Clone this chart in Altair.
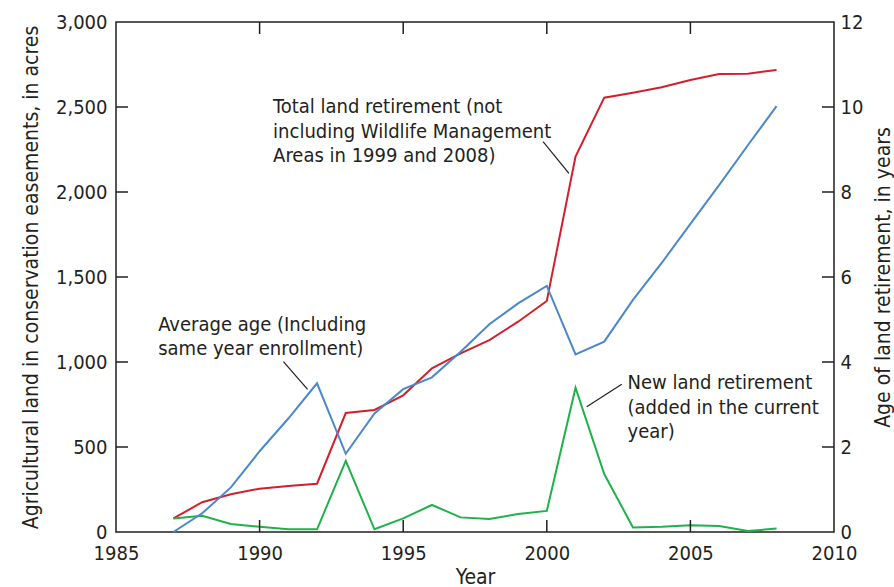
import altair as alt
import pandas as pd

# Annual series, 1987-2008
years = list(range(1987, 2009))
total_acres = [80, 175, 222, 255, 270, 284, 700, 718, 804, 963, 1051,
               1129, 1237, 1359, 2208, 2555, 2584, 2616, 2659, 2694, 2696, 2718]
new_acres = [80, 96, 47, 31, 16, 16, 418, 16, 80, 159, 86,
             76, 106, 124, 849, 341, 27, 31, 39, 35, 6, 20]
avg_age = [0, 0.44, 1.05, 1.9, 2.67, 3.5, 1.84, 2.79, 3.36, 3.64, 4.24,
           4.89, 5.38, 5.79, 4.18, 4.48, 5.46, 6.33, 7.25, 8.16, 9.1, 10.02]

# Axis tick values
acre_ticks = [0, 500, 1000, 1500, 2000, 2500, 3000]
age_ticks = [0, 2, 4, 6, 8, 10, 12]
year_ticks = [1985, 1990, 1995, 2000, 2005, 2010]
inner_acre_ticks = acre_ticks[1:-1]
inner_age_ticks = age_ticks[1:-1]
inner_year_ticks = year_ticks[1:-1]

# Callout labels (anchored in year / acre coordinates)
label_lines = [
    "Total land retirement (not",
    "including Wildlife Management",
    "Areas in 1999 and 2008)",
    "Average age (Including",
    "same year enrollment)",
    "New land retirement",
    "(added in the current",
    "year)",
]
label_x = [1990.47, 1990.47, 1990.47, 1986.47, 1986.47, 2002.81, 2002.81, 2002.81]
label_y = [2500, 2353, 2212, 1218, 1076, 875, 731, 590]

leader_x = [1999.87, 1990.83, 2002.61]
leader_y = [2296, 1002, 869]
leader_x2 = [2000.77, 1991.67, 2001.39]
leader_y2 = [2110, 839, 737]

FONT = "Liberation Sans Narrow, DejaVu Sans Condensed, Arial Narrow, sans-serif"
INK = "#231f20"
RED = "#d21f2c"
BLUE = "#4a88c9"
GREEN = "#1fb24b"
W, H = 718, 510
TICK = 12

df = pd.DataFrame({"year": years, "total": total_acres, "new": new_acres, "age": avg_age})
labels = pd.DataFrame({"x": label_x, "y": label_y, "text": label_lines})
leaders = pd.DataFrame({"x": leader_x, "y": leader_y, "x2": leader_x2, "y2": leader_y2})

x_scale = alt.Scale(domain=[1985, 2010], nice=False, zero=False)
acre_scale = alt.Scale(domain=[0, 3000], nice=False)
age_scale = alt.Scale(domain=[0, 12], nice=False)

# The same axis definition is given to every layer sharing a scale so the
# layered axes merge cleanly.
x_axis = alt.Axis(values=year_ticks, format="d", ticks=False, domain=False, grid=False,
                  labelPadding=11, labelFlush=False, title="Year",
                  titleX=W / 2, titleY=45, titleBaseline="middle", titleAlign="center")
acre_axis = alt.Axis(values=acre_ticks, format=",d", ticks=False, domain=False, grid=False,
                     labelPadding=9, labelFlush=False,
                     title="Agricultural land in conservation easements, in acres",
                     titleAngle=270, titleX=-85, titleY=H / 2,
                     titleAlign="center", titleBaseline="middle")
age_axis = alt.Axis(orient="right", values=age_ticks, format="d", ticks=False, domain=False,
                    grid=False, labelPadding=6, labelFlush=False,
                    title="Age of land retirement, in years",
                    titleAngle=270, titleX=49, titleY=H / 2,
                    titleAlign="center", titleBaseline="middle")


def xq(field):
    return alt.X(field, type="quantitative", scale=x_scale, axis=x_axis)


def acre_y(field):
    return alt.Y(field, type="quantitative", scale=acre_scale, axis=acre_axis)


def age_y(field):
    return alt.Y(field, type="quantitative", scale=age_scale, axis=age_axis)


base = alt.Chart(df)

total_line = base.mark_line(color=RED, strokeWidth=2).encode(x=xq("year"), y=acre_y("total"))
new_line = base.mark_line(color=GREEN, strokeWidth=2).encode(x=xq("year"), y=acre_y("new"))

# Inward-pointing tick marks on all four sides
left_ticks = alt.Chart(pd.DataFrame({"v": inner_acre_ticks})).mark_rule(
    color=INK, strokeWidth=1.5
).encode(y=acre_y("v"), x=alt.value(0), x2=alt.value(TICK))

bottom_ticks = alt.Chart(pd.DataFrame({"v": inner_year_ticks})).mark_rule(
    color=INK, strokeWidth=1.5
).encode(x=xq("v"), y=alt.value(H), y2=alt.value(H - TICK))

top_ticks = alt.Chart(pd.DataFrame({"v": inner_year_ticks})).mark_rule(
    color=INK, strokeWidth=1.5
).encode(x=xq("v"), y=alt.value(0), y2=alt.value(TICK))

right_ticks = alt.Chart(pd.DataFrame({"v": inner_age_ticks})).mark_rule(
    color=INK, strokeWidth=1.5
).encode(y=age_y("v"), x=alt.value(W), x2=alt.value(W - TICK))

callouts = alt.Chart(labels).mark_text(
    align="left", baseline="middle", font=FONT, fontSize=20, color=INK
).encode(x=xq("x"), y=acre_y("y"), text="text:N")

leader_lines = alt.Chart(leaders).mark_rule(color=INK, strokeWidth=1.2).encode(
    x=xq("x"), y=acre_y("y"), x2="x2:Q", y2="y2:Q"
)

acre_group = alt.layer(total_line, new_line, left_ticks, bottom_ticks, top_ticks,
                       leader_lines, callouts)

age_line = base.mark_line(color=BLUE, strokeWidth=2).encode(x=xq("year"), y=age_y("age"))
age_group = alt.layer(age_line, right_ticks)

chart = (
    alt.layer(acre_group, age_group)
    .resolve_scale(y="independent")
    .properties(
        width=W,
        height=H,
        autosize=alt.AutoSizeParams(type="none"),
        padding={"left": 116, "top": 22, "right": 60, "bottom": 55},
        background="white",
    )
    .configure_view(stroke=INK, strokeWidth=1.5)
    .configure_axis(
        labelFont=FONT, labelFontSize=20, labelColor=INK,
        titleFont=FONT, titleFontSize=21, titleColor=INK, titleFontWeight="normal",
    )
)

chart.save("out.html", embed_options={"renderer": "svg", "actions": False})
